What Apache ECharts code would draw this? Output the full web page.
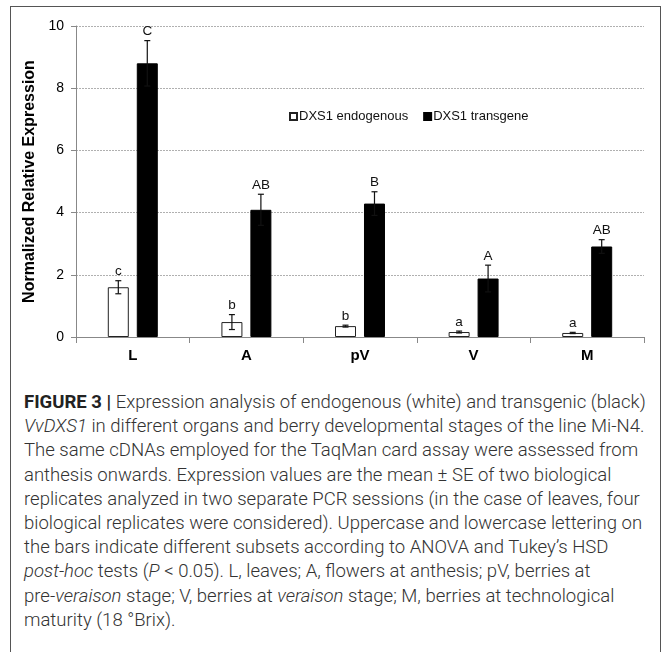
<!DOCTYPE html>
<html>
<head>
<meta charset="utf-8">
<script src="https://cdn.jsdelivr.net/npm/echarts@6/dist/echarts.min.js"></script>
<style>
  html, body { margin: 0; padding: 0; background: #fff; }
  #wrap { position: relative; width: 665px; height: 652px; overflow: hidden; background: #fff; }
  #frame { position: absolute; left: 10px; top: 6px; width: 649px; height: 700px;
           border-left: 1px solid #555; border-right: 1px solid #555; border-top: 1px solid #555; }
  #chart { position: absolute; left: 0; top: 0; width: 665px; height: 385px; }
  #caption { position: absolute; left: 24px; top: 390px; width: 640px;
             font-family: Roboto, "Liberation Sans", Arial, sans-serif; font-weight: 300;
             color: #333; font-size: 17px; line-height: 24.2px; }
  #caption div { white-space: nowrap; }
  #caption b { font-weight: 700; color: #222; }
</style>
</head>
<body>
<div id="wrap">
  <div id="frame"></div>
  <div id="chart"></div>
  <div id="caption">
    <div id="l1"><b>FIGURE 3 |</b> Expression analysis of endogenous (white) and transgenic (black)</div>
    <div><i>VvDXS1</i> in different organs and berry developmental stages of the line Mi-N4.</div>
    <div>The same cDNAs employed for the TaqMan card assay were assessed from</div>
    <div>anthesis onwards. Expression values are the mean ± SE of two biological</div>
    <div>replicates analyzed in two separate PCR sessions (in the case of leaves, four</div>
    <div>biological replicates were considered). Uppercase and lowercase lettering on</div>
    <div>the bars indicate different subsets according to ANOVA and Tukey’s HSD</div>
    <div><i>post-hoc</i> tests (<i>P</i> &lt; 0.05). L, leaves; A, flowers at anthesis; pV, berries at</div>
    <div>pre-<i>veraison</i> stage; V, berries at <i>veraison</i> stage; M, berries at technological</div>
    <div>maturity (18 °Brix).</div>
  </div>
</div>
<script>
// ---- data ----
var categories = ['L', 'A', 'pV', 'V', 'M'];
var endoValues = [1.60, 0.48, 0.35, 0.16, 0.13];
var endoSE     = [0.21, 0.24, 0.03, 0.03, 0.02];
var endoLetters = ['c', 'b', 'b', 'a', 'a'];
var transValues = [8.80, 4.09, 4.29, 1.88, 2.91];
var transSE     = [0.73, 0.50, 0.38, 0.43, 0.22];
var transLetters = ['C', 'AB', 'B', 'A', 'AB'];
var yTicks = [0, 2, 4, 6, 8, 10];

// fit caption font so the first line spans the reference width
(function () {
  var l1 = document.getElementById('l1');
  var cap = document.getElementById('caption');
  var span = document.createElement('span');
  span.innerHTML = l1.innerHTML;
  span.style.whiteSpace = 'nowrap';
  l1.innerHTML = '';
  l1.appendChild(span);
  var w = span.getBoundingClientRect().width;
  var target = 622;
  var fs = 17 * target / w;
  cap.style.fontSize = fs.toFixed(2) + 'px';
})();

var BAR_W = 21;
var GAP_RATIO = 0.38;
var OFFSET = (BAR_W + BAR_W * GAP_RATIO) / 2;

function errSeries(values, se, letters, sign) {
  return {
    type: 'custom',
    z: 5,
    silent: true,
    data: values.map(function (v, i) { return [i, v, se[i]]; }),
    renderItem: function (params, api) {
      var i = api.value(0), v = api.value(1), s = api.value(2);
      var top = api.coord([i, v + s]);
      var bot = api.coord([i, v - s]);
      var x = top[0] + sign * OFFSET;
      var cap = 3;
      var st = { stroke: '#111', lineWidth: 1.2 };
      return {
        type: 'group',
        children: [
          { type: 'line', shape: { x1: x, y1: top[1], x2: x, y2: bot[1] }, style: st },
          { type: 'line', shape: { x1: x - cap, y1: top[1], x2: x + cap, y2: top[1] }, style: st },
          { type: 'line', shape: { x1: x - cap, y1: bot[1], x2: x + cap, y2: bot[1] }, style: st },
          { type: 'text', style: { text: letters[params.dataIndex], x: x, y: top[1] - 2,
              align: 'center', verticalAlign: 'bottom',
              font: '13.5px "Liberation Sans", Arial, sans-serif', fill: '#111' } }
        ]
      };
    }
  };
}

var chart = echarts.init(document.getElementById('chart'), null, { renderer: 'canvas' });
chart.setOption({
  animation: false,
  textStyle: { fontFamily: '"Liberation Sans", Arial, sans-serif' },
  grid: { left: 76, top: 26, width: 568, height: 311 },
  legend: {
    data: ['DXS1 endogenous', 'DXS1 transgene'],
    left: 284, top: 105,
    icon: 'rect', itemWidth: 7, itemHeight: 7, itemGap: 15,
    textStyle: { fontSize: 13, color: '#111', padding: [0, 0, 0, -3] }
  },
  xAxis: {
    type: 'category',
    data: categories,
    axisLine: { lineStyle: { color: '#888', width: 1 } },
    axisTick: { show: true, length: 6, lineStyle: { color: '#888' } },
    axisLabel: { fontSize: 15, fontWeight: 'bold', color: '#000', margin: 11 }
  },
  yAxis: {
    type: 'value', min: 0, max: 10, interval: 2,
    name: 'Normalized Relative Expression',
    nameLocation: 'middle', nameRotate: 90, nameGap: 34,
    nameTextStyle: { fontSize: 16, fontWeight: 'bold', color: '#000' },
    axisLine: { show: true, lineStyle: { color: '#888', width: 1 } },
    axisTick: { show: true, length: 5, lineStyle: { color: '#888' } },
    axisLabel: { fontSize: 14, color: '#000', margin: 12,
      formatter: function (v) { return yTicks.indexOf(v) >= 0 ? String(v) : ''; } },
    splitLine: { show: true, lineStyle: { color: '#b0b0b0', width: 1, type: [2, 1] } }
  },
  series: [
    { name: 'DXS1 endogenous', type: 'bar', data: endoValues, barWidth: BAR_W,
      barGap: (GAP_RATIO * 100) + '%',
      itemStyle: { color: '#fff', borderColor: '#222', borderWidth: 1 } },
    { name: 'DXS1 transgene', type: 'bar', data: transValues, barWidth: BAR_W,
      barGap: (GAP_RATIO * 100) + '%',
      itemStyle: { color: '#000', borderColor: '#000', borderWidth: 1 } },
    errSeries(endoValues, endoSE, endoLetters, -1),
    errSeries(transValues, transSE, transLetters, 1)
  ]
});
</script>
</body>
</html>
